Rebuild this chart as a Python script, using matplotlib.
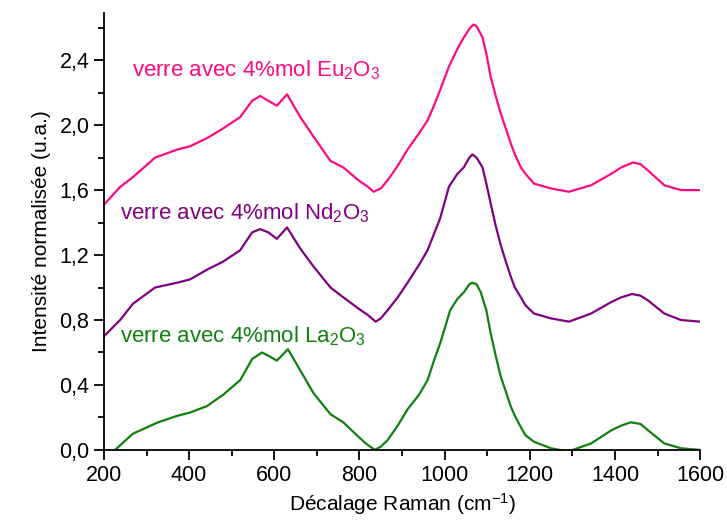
import matplotlib
matplotlib.use("Agg")
import matplotlib.pyplot as plt
from matplotlib.ticker import MultipleLocator, FuncFormatter

plt.rcParams['font.family'] = ['Liberation Sans', 'DejaVu Sans']
plt.rcParams['mathtext.fontset'] = 'custom'
plt.rcParams['mathtext.rm'] = 'Liberation Sans'
plt.rcParams['mathtext.it'] = 'Liberation Sans'

# spectra (Raman shift in cm-1, normalised intensity)
eu_x = [200, 238, 268, 320, 372, 402, 442, 480, 520, 548, 567, 586, 606, 630, 661,
        692, 732, 762, 798, 820, 833, 850, 866, 890, 913, 940, 960, 975, 990, 1010,
        1030, 1045, 1060, 1068, 1075, 1089, 1098, 1108, 1120, 1132, 1145, 1155, 1165,
        1179, 1190, 1210, 1250, 1292, 1344, 1391, 1415, 1442, 1460, 1478, 1516, 1555, 1600]
eu_y = [1.51, 1.62, 1.68, 1.80, 1.85, 1.87, 1.92, 1.98, 2.05, 2.15, 2.18, 2.15, 2.12, 2.19, 2.05,
        1.93, 1.78, 1.74, 1.66, 1.62, 1.59, 1.61, 1.66, 1.75, 1.85, 1.95, 2.03, 2.12, 2.22, 2.36,
        2.47, 2.54, 2.60, 2.62, 2.61, 2.54, 2.44, 2.30, 2.18, 2.07, 1.97, 1.89, 1.82,
        1.74, 1.70, 1.64, 1.61, 1.59, 1.63, 1.70, 1.74, 1.77, 1.76, 1.72, 1.63, 1.60, 1.60]

nd_x = [200, 238, 268, 320, 372, 402, 442, 480, 520, 548, 567, 586, 606, 630, 661,
        692, 732, 762, 798, 820, 838, 850, 866, 890, 913, 940, 960, 975, 990, 1010,
        1030, 1045, 1058, 1065, 1075, 1089, 1098, 1108, 1120, 1132, 1145, 1155, 1165,
        1179, 1190, 1210, 1250, 1292, 1344, 1391, 1415, 1440, 1460, 1478, 1516, 1555, 1600]
nd_y = [0.70, 0.80, 0.90, 1.00, 1.03, 1.05, 1.11, 1.16, 1.23, 1.34, 1.36, 1.34, 1.30, 1.37, 1.24,
        1.13, 1.00, 0.94, 0.87, 0.83, 0.79, 0.81, 0.86, 0.94, 1.03, 1.14, 1.23, 1.33, 1.43, 1.62,
        1.70, 1.74, 1.80, 1.82, 1.80, 1.74, 1.64, 1.52, 1.38, 1.26, 1.15, 1.07, 1.00,
        0.94, 0.89, 0.84, 0.81, 0.79, 0.84, 0.91, 0.94, 0.96, 0.95, 0.92, 0.84, 0.80, 0.79]

la_x = [200, 226, 268, 327, 372, 402, 442, 480, 520, 548, 571, 586, 606, 632, 661,
        692, 732, 762, 798, 815, 836, 850, 866, 890, 913, 940, 960, 975, 990, 1013,
        1030, 1045, 1058, 1065, 1075, 1085, 1098, 1108, 1120, 1132, 1145, 1155, 1165,
        1179, 1190, 1210, 1250, 1290, 1344, 1391, 1415, 1437, 1460, 1478, 1516, 1555, 1600]
la_y = [-0.07, 0.0, 0.10, 0.17, 0.21, 0.23, 0.27, 0.34, 0.43, 0.56, 0.60, 0.58, 0.55, 0.62, 0.49,
        0.35, 0.22, 0.17, 0.08, 0.04, 0.0, 0.02, 0.06, 0.15, 0.25, 0.34, 0.43, 0.55, 0.66, 0.86,
        0.93, 0.97, 1.02, 1.03, 1.02, 0.97, 0.86, 0.72, 0.58, 0.45, 0.35, 0.27, 0.21,
        0.14, 0.09, 0.05, 0.01, -0.01, 0.04, 0.12, 0.15, 0.17, 0.16, 0.12, 0.04, 0.01, 0.0]

names = ['verre avec 4%mol Eu$_2$O$_3$', 'verre avec 4%mol Nd$_2$O$_3$',
         'verre avec 4%mol La$_2$O$_3$']
colors = ['#ff0a80', '#800080', '#118011']

fig = plt.figure(figsize=(7.27, 5.25), dpi=100)
ax = fig.add_axes([0.143, 0.143, 0.820, 0.832])

for xs, ys, c in [(eu_x, eu_y, colors[0]), (nd_x, nd_y, colors[1]), (la_x, la_y, colors[2])]:
    ax.plot(xs, ys, color=c, lw=1.6)

ax.text(266, 2.34, names[0], color=colors[0], fontsize=16, va='center')
ax.text(238, 1.46, names[1], color=colors[1], fontsize=16, va='center')
ax.text(238, 0.70, names[2], color=colors[2], fontsize=16, va='center')

ax.set_xlim(200, 1600)
ax.set_ylim(0, 2.69)
ax.xaxis.set_major_locator(MultipleLocator(200))
ax.xaxis.set_minor_locator(MultipleLocator(100))
ax.yaxis.set_major_locator(MultipleLocator(0.4))
ax.yaxis.set_minor_locator(MultipleLocator(0.2))
ax.yaxis.set_major_formatter(FuncFormatter(lambda v, p: f"{v:.1f}".replace('.', ',')))

for s in ['top', 'right']:
    ax.spines[s].set_visible(False)
for s in ['left', 'bottom']:
    ax.spines[s].set_linewidth(1.3)
ax.tick_params(which='major', direction='out', length=7, width=1.3, labelsize=15.5)
ax.tick_params(which='minor', direction='out', length=4, width=1.3)

ax.set_xlabel('Décalage Raman (cm$^{-1}$)', fontsize=15, labelpad=4)
ax.set_ylabel('Intensité normalisée (u.a.)', fontsize=15, labelpad=6)

fig.savefig('out.png', dpi=100)
